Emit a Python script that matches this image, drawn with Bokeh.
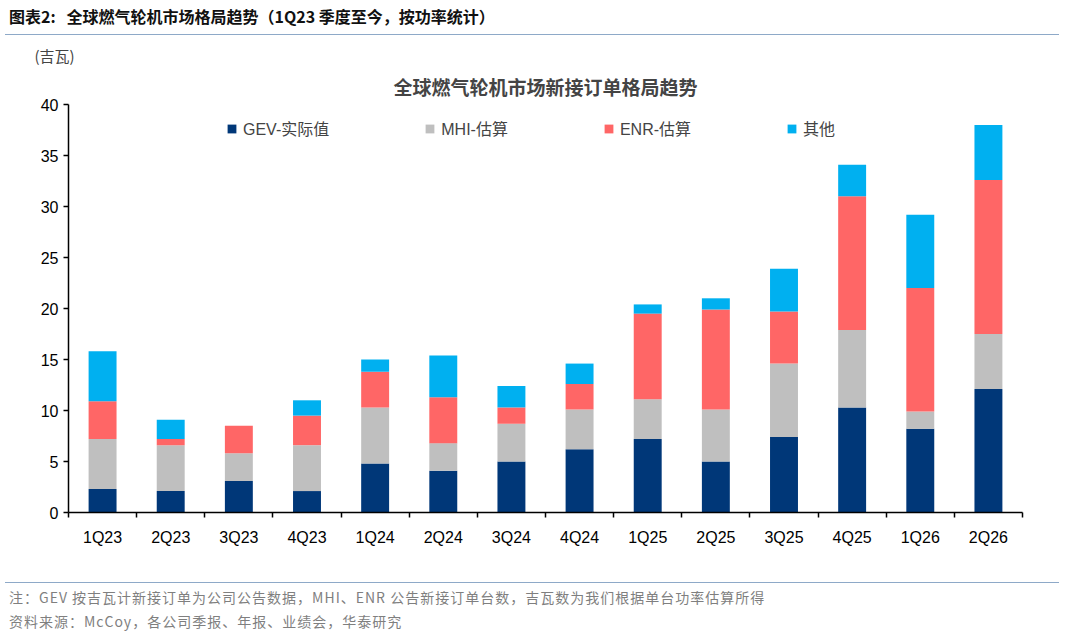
from bokeh.plotting import figure
from bokeh.models import ColumnDataSource, FixedTicker, Legend, LegendItem, Title, Div
from bokeh.layouts import column
from bokeh.embed import file_html
from bokeh.resources import INLINE

quarters = ["1Q23","2Q23","3Q23","4Q23","1Q24","2Q24","3Q24","4Q24","1Q25","2Q25","3Q25","4Q25","1Q26","2Q26"]
gev   = [2.3, 2.1, 3.1, 2.1, 4.8, 4.1, 5.0, 6.2, 7.2, 5.0, 7.4, 10.3, 8.2, 12.1]
mhi   = [4.9, 4.5, 2.7, 4.5, 5.5, 2.7, 3.7, 3.9, 3.9, 5.1, 7.2, 7.6, 1.7, 5.4]
enr   = [3.7, 0.6, 2.7, 2.9, 3.5, 4.5, 1.6, 2.5, 8.4, 9.8, 5.1, 13.1, 12.1, 15.1]
other = [4.9, 1.9, 0.0, 1.5, 1.2, 4.1, 2.1, 2.0, 0.9, 1.1, 4.2, 3.1, 7.2, 5.4]
series = ["GEV-实际值", "MHI-估算", "ENR-估算", "其他"]
colors = ["#003778", "#BFBFBF", "#FF6666", "#00B0F0"]

xs = list(range(len(quarters)))
src = ColumnDataSource(dict(x=xs, gev=gev, mhi=mhi, enr=enr, other=other))

FONT = "'Liberation Sans', 'Noto Sans CJK SC'"

p = figure(width=1064, height=537, x_range=(-0.5, len(quarters) - 0.5), y_range=(0, 40),
           output_backend="svg", toolbar_location=None,
           min_border_left=68, min_border_right=42, min_border_top=64, min_border_bottom=65)
p.title.text = "(吉瓦)"
p.title.align = "left"
p.title.offset = -34
p.title.text_font = "Noto Sans CJK SC"
p.title.text_font_size = "15px"
p.title.text_font_style = "normal"
p.title.standoff = 0

main = Title(text="全球燃气轮机市场新接订单格局趋势", align="center", text_font="Noto Sans CJK SC",
             text_font_size="19px", text_font_style="bold", standoff=10)
p.add_layout(main, "above")

rs = p.vbar_stack(["gev", "mhi", "enr", "other"], x="x", width=0.41, color=colors, source=src, line_width=0)

p.xgrid.visible = False
p.ygrid.visible = False
p.outline_line_color = None
p.yaxis.ticker = FixedTicker(ticks=[0, 5, 10, 15, 20, 25, 30, 35, 40])
p.xaxis.ticker = FixedTicker(ticks=xs, minor_ticks=[i + 0.5 for i in range(-1, len(quarters))])
p.xaxis.major_label_overrides = {i: q for i, q in enumerate(quarters)}
for ax in (p.xaxis[0], p.yaxis[0]):
    ax.axis_line_color = "black"
    ax.axis_line_width = 1.5
    ax.major_label_text_font = FONT
    ax.major_label_text_font_size = "16px"
    ax.major_label_text_color = "black"
p.xaxis.major_tick_line_color = None
p.xaxis.minor_tick_line_color = "black"
p.xaxis.minor_tick_line_width = 1.5
p.xaxis.minor_tick_out = 5
p.xaxis.minor_tick_in = 0
p.xaxis.major_label_standoff = 10
p.yaxis.major_tick_line_color = "black"
p.yaxis.major_tick_line_width = 1.5
p.yaxis.major_tick_in = 0
p.yaxis.major_tick_out = 5
p.yaxis.minor_tick_line_color = None

legend = Legend(items=[LegendItem(label=s, renderers=[r]) for s, r in zip(series, rs)],
                orientation="horizontal", location=(158, 372), spacing=95,
                label_text_font=FONT, label_text_font_size="16px",
                glyph_width=11, glyph_height=11, label_standoff=6,
                background_fill_alpha=0, border_line_color=None)
p.add_layout(legend, "center")

header = Div(text="图表2:&nbsp;&nbsp; 全球燃气轮机市场格局趋势（1Q23 季度至今，按功率统计）", width=1054, height=30,
             styles={"font-family": "'Noto Sans CJK SC'", "font-weight": "bold", "font-size": "16px",
                     "color": "#111", "border-bottom": "1.5px solid #8EA9C8", "padding-left": "4px",
                     "line-height": "22px"})
footer = Div(text="注：GEV 按吉瓦计新接订单为公司公告数据，MHI、ENR 公告新接订单台数，吉瓦数为我们根据单台功率估算所得<br>资料来源：McCoy，各公司季报、年报、业绩会，华泰研究",
             width=1054, height=50,
             styles={"font-family": "'Noto Sans CJK SC'", "font-size": "14px", "color": "#7f7f7f",
                     "border-top": "1.5px solid #8EA9C8", "padding-left": "4px", "padding-top": "2px",
                     "line-height": "24px", "letter-spacing": "1px"})

layout = column(header, p, footer, spacing=0)
open("out.html", "w").write(file_html(layout, INLINE))
